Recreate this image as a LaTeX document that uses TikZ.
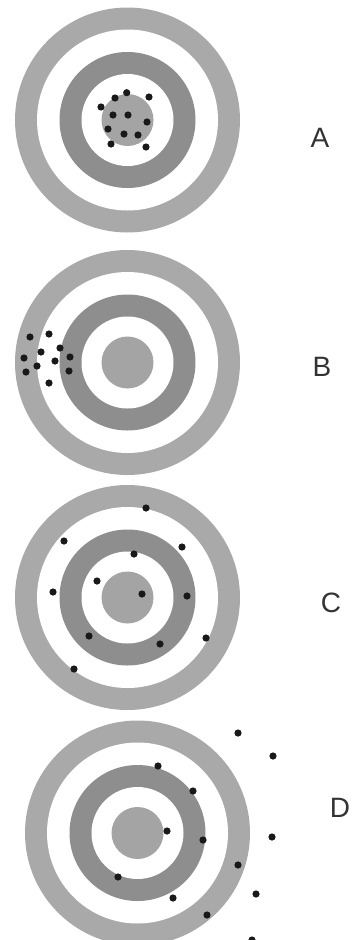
\documentclass[tikz,border=0pt]{standalone}
\usepackage{fontspec}
\setmainfont{Liberation Sans}
\usepackage{tikz}
\usetikzlibrary{calc}
\usepackage{tkz-euclide}
\usepackage{xcolor}
\definecolor{ringgray}{HTML}{A9A9A9}
\definecolor{darkring}{HTML}{8E8E8E}
\definecolor{bullgray}{HTML}{A4A4A4}

\begin{document}
\begin{tikzpicture}[x=1pt, y=-1pt,
    ringlabel/.style={font=\fontsize{28}{30}\selectfont, text=black!80},
    hit/.style={fill=black!90}]
            \useasboundingbox (0,0) rectangle (353,940);
            \clip (0,0) rectangle (353,940);
            % target centres
            \tkzDefPoints{127.5/120/OA, 127.5/362.5/OB, 127.5/597.5/OC, 137.5/833/OD}
            \foreach \c in {OA,OB,OC,OD}{
                \fill[ringgray] (\c) circle (112.5);
                \fill[white] (\c) circle (90.5);
                \fill[darkring] (\c) circle (68);
                \fill[white] (\c) circle (46);
                \fill[bullgray] (\c) circle (26);
            }
            % shots
            \tkzDefPoints{126.7/92.7/a1, 115/98/a2, 149/97/a3, 101/107/a4, 113/115/a5,
                128/115/a6, 147/122/a7, 108/129/a8, 124/134/a9, 138/135/a10,
                111/144/a11, 146/147/a12}
            \tkzDefPoints{49/334/b1, 30/337/b2, 60/348/b3, 41/352/b4, 24/358/b5,
                55/361/b6, 70/357/b7, 37/366/b8, 26/372/b9, 69/371/b10, 49/383/b11}
            \tkzDefPoints{146/508/c1, 64/541/c2, 182/547/c3, 134/554/c4, 97/581/c5,
                53/592/c6, 142/594/c7, 187/596/c8, 89/636/c9, 160/644/c10,
                206/638/c11, 74/669/c12}
            \tkzDefPoints{238/733/d1, 273/756/d2, 158/766/d3, 193/791/d4, 167/831/d5,
                203/840/d6, 272/837/d7, 238/865/d8, 118/877/d9, 256/894/d10,
                173/898/d11, 207/915/d12, 252/940/d13}
            \foreach \p in {a1,a2,a3,a4,a5,a6,a7,a8,a9,a10,a11,a12,
                b1,b2,b3,b4,b5,b6,b7,b8,b9,b10,b11,
                c1,c2,c3,c4,c5,c6,c7,c8,c9,c10,c11,c12,
                d1,d2,d3,d4,d5,d6,d7,d8,d9,d10,d11,d12,d13}
                \fill[hit] (\p) circle (3.6);
            % labels
            \node[ringlabel] (labA) at (320,138) {A};
            \node[ringlabel] (labB) at (322,367) {B};
            \node[ringlabel] (labC) at (331,603) {C};
            \node[ringlabel] (labD) at (340,808) {D};
        \end{tikzpicture}
\end{document}
